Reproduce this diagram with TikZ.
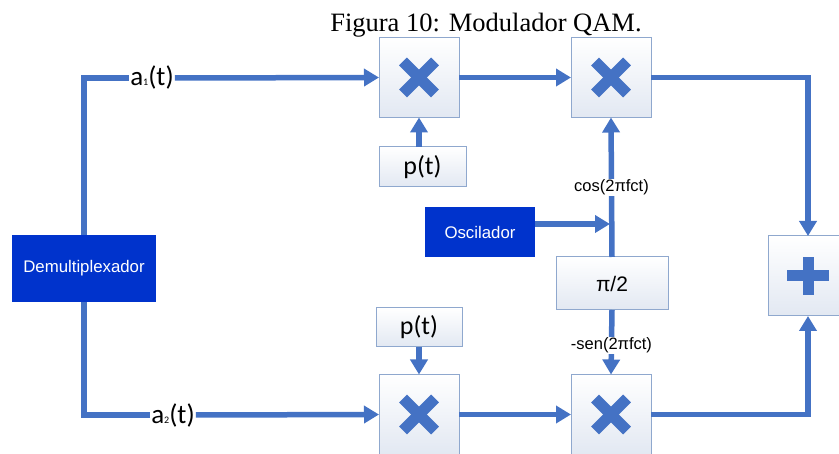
\documentclass[tikz,border=0pt]{standalone}
\usepackage{fontspec}
\setmainfont{Liberation Serif}
\newfontfamily\arialf{Liberation Sans}
\newfontfamily\calf{Carlito}
\usetikzlibrary{arrows.meta,calc}

\definecolor{lineblue}{RGB}{68,114,196}
\definecolor{darkbox}{RGB}{0,51,204}
\definecolor{boxedge}{RGB}{143,168,206}
\definecolor{boxshade}{RGB}{226,232,242}

\tikzset{
  wire/.style={draw=lineblue, line width=5.5pt, line join=miter},
  arr/.style={wire, -{Triangle[length=15pt,width=17pt]}},
  opbox/.style={draw=boxedge, line width=1pt, top color=white, bottom color=boxshade,
    inner sep=0pt, outer sep=0pt, rectangle},
  mult/.style={opbox, minimum width=80pt, minimum height=80pt,
    path picture={
      \draw[lineblue, line width=11pt]
        ([shift={(-16pt,-16pt)}]path picture bounding box.center) --
        ([shift={(16pt,16pt)}]path picture bounding box.center);
      \draw[lineblue, line width=11pt]
        ([shift={(-16pt,16pt)}]path picture bounding box.center) --
        ([shift={(16pt,-16pt)}]path picture bounding box.center);}},
  adder/.style={opbox, minimum width=80pt, minimum height=80pt,
    path picture={
      \draw[lineblue, line width=11pt]
        ([xshift=-21pt]path picture bounding box.center) --
        ([xshift=21pt]path picture bounding box.center);
      \draw[lineblue, line width=11pt]
        ([yshift=-19pt]path picture bounding box.center) --
        ([yshift=19pt]path picture bounding box.center);}},
  darkblk/.style={fill=darkbox, text=white, inner sep=0pt, outer sep=0pt,
    font=\arialf\fontsize{16.8}{16.8}\selectfont},
  pbox/.style={opbox, font=\calf\fontsize{26}{26}\selectfont},
  siglbl/.style={fill=white, inner sep=1pt, font=\calf\fontsize{27}{27}\selectfont},
  carrlbl/.style={fill=white, inner sep=1pt, font=\arialf\fontsize{16.5}{16.5}\selectfont},
}

\begin{document}
\begin{tikzpicture}[x=1pt, y=-1pt]
  \useasboundingbox (0,0) rectangle (839,454);
  \clip (0,0) rectangle (839,454);

  % caption
  \node[font=\fontsize{26.5}{26.5}\selectfont, anchor=base] (title) at (486,32) {Figura 10: Modulador QAM.};

  % blocks
  \node[darkblk, minimum width=144pt, minimum height=67pt] (demux) at (84,268.5) {Demultiplexador};
  \node[mult] (m1) at (419,77.5) {};
  \node[mult] (m2) at (611,77.5) {};
  \node[mult] (m3) at (419,414.5) {};
  \node[mult] (m4) at (611,414.5) {};
  \node[pbox, minimum width=87pt, minimum height=40pt] (p1) at (422.5,167) {p(t)};
  \node[pbox, minimum width=86pt, minimum height=39pt] (p2) at (419,327.5) {p(t)};
  \node[darkblk, minimum width=110pt, minimum height=50pt] (osc) at (480,232) {Oscilador};
  \node[opbox, minimum width=112pt, minimum height=53pt,
        font=\arialf\fontsize{21}{21}\selectfont] (ph) at (612,283.5) {π/2};
  \node[adder] (sum) at (808,276) {};

  % signal labels on the branches
  \node[siglbl] (a1) at (152,78) {a{\fontsize{10}{10}\selectfont 1}(t)};
  \node[siglbl] (a2) at (173,415) {a{\fontsize{10}{10}\selectfont 2}(t)};

  % in-phase branch
  \draw[wire] (demux.north) |- (a1.west);
  \draw[arr] (a1.east) -- (m1.west);
  \draw[arr] (p1.north -| m1.south) -- (m1.south);
  \draw[arr] (m1.east) -- (m2.west);
  \draw[arr] (m2.east) -| (sum.north);

  % quadrature branch
  \draw[wire] (demux.south) |- (a2.west);
  \draw[arr] (a2.east) -- (m3.west);
  \draw[arr] (p2.south -| m3.north) -- (m3.north);
  \draw[arr] (m3.east) -- (m4.west);
  \draw[arr] (m4.east) -| (sum.south);

  % carrier generation
  \coordinate (oscin) at (610,224);
  \draw[arr] ([yshift=8pt]osc.east) -- (oscin);
  \draw[arr] (ph.north) -- node[carrlbl] (cl) {cos(2πfct)} (m2.south);
  \draw[arr] (ph.south) -- node[carrlbl, pos=0.55] (sl) {-sen(2πfct)} (m4.north);
\end{tikzpicture}
\end{document}
